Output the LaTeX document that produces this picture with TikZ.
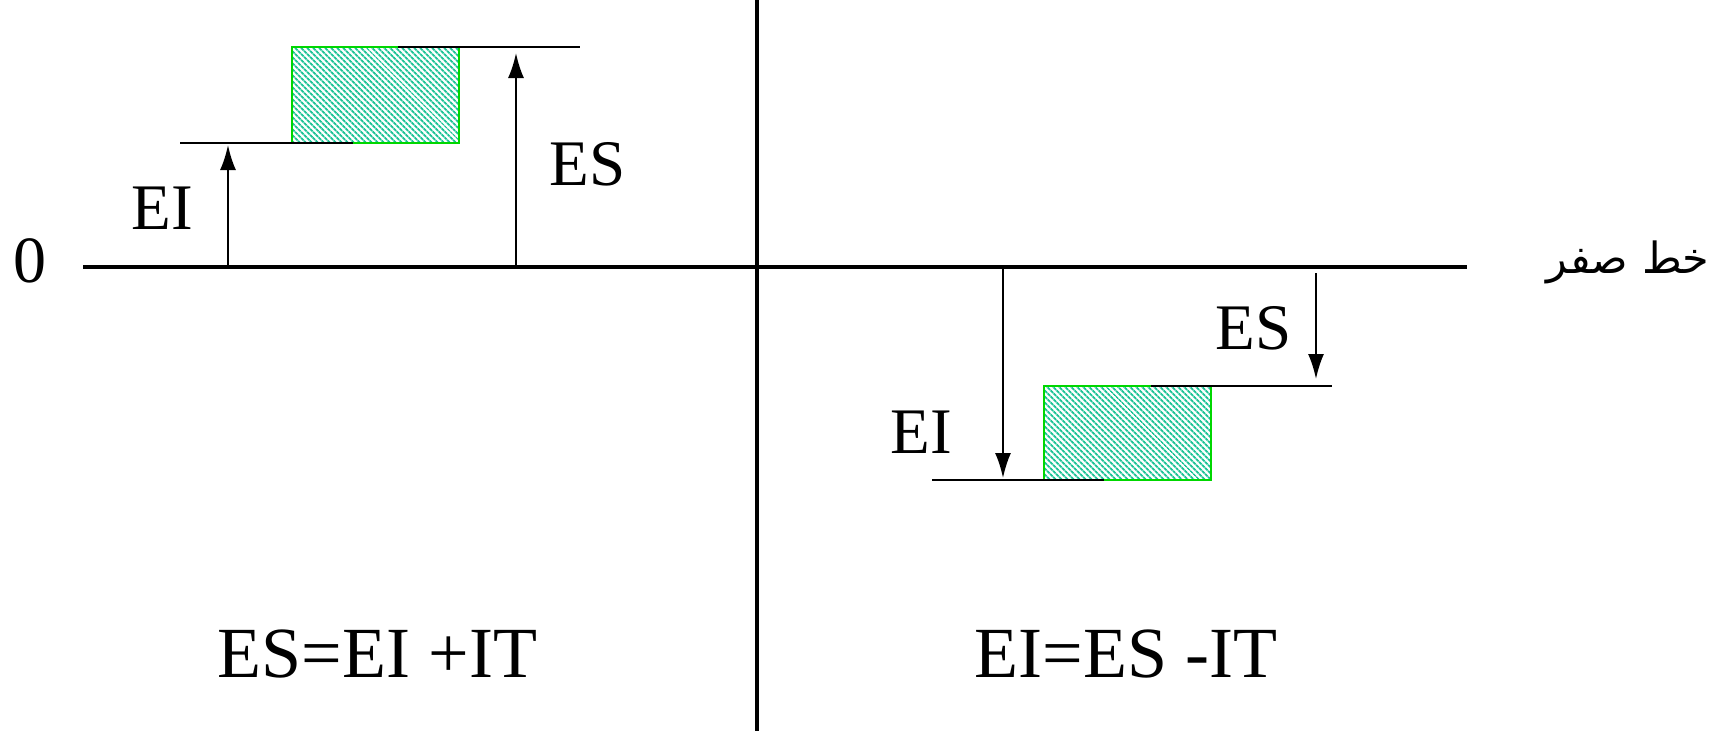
\documentclass[tikz,border=0pt]{standalone}
\usepackage{fontspec}
\setmainfont{Liberation Serif}
\newfontfamily\arabicfont[Script=Arabic]{DejaVu Sans}
\TeXXeTstate=1
\usetikzlibrary{patterns.meta,arrows.meta}
\definecolor{hatch}{RGB}{30,195,150}
\definecolor{boxgreen}{RGB}{0,215,0}
\begin{document}
\begin{tikzpicture}[x=1pt,y=-1pt,
 axis/.style={line width=4.5pt},
 level/.style={line width=2.7pt},
 dim/.style={line width=2pt,-{Latex[length=25pt,width=16pt]}},
 zone/.style={draw=boxgreen,line width=2.2pt,pattern={Lines[angle=-45,distance=4pt,line width=2pt]},pattern color=hatch},
 lbl/.style={inner sep=0pt,font=\fontsize{65}{70}\selectfont},
 formula/.style={inner sep=0pt,font=\fontsize{72}{80}\selectfont}]
\useasboundingbox (0,0) rectangle (1725,731);
% axes
\coordinate (zl) at (83,267);
\coordinate (zr) at (1467,267);
\coordinate (vt) at (757,0);
\coordinate (vb) at (757,731);
\draw[axis] (zl) -- (zr);
\draw[axis] (vt) -- (vb);
% left zone
\coordinate (r1a) at (292,47);
\coordinate (r1b) at (459,143);
\path[zone] (r1a) rectangle (r1b);
\coordinate (eiLa) at (180,143);
\coordinate (eiLb) at (353,143);
\coordinate (esLa) at (398,47);
\coordinate (esLb) at (580,47);
\draw[level] (eiLa) -- (eiLb);
\draw[level] (esLa) -- (esLb);
\coordinate (aEIs) at (228,267);
\coordinate (aEIe) at (228,145);
\coordinate (aESs) at (516,267);
\coordinate (aESe) at (516,53);
\draw[dim] (aEIs) -- (aEIe);
\draw[dim] (aESs) -- (aESe);
% right zone
\coordinate (r2a) at (1044,386);
\coordinate (r2b) at (1211,480);
\path[zone] (r2a) rectangle (r2b);
\coordinate (eiRa) at (932,480);
\coordinate (eiRb) at (1104,480);
\coordinate (esRa) at (1151,386);
\coordinate (esRb) at (1332,386);
\draw[level] (eiRa) -- (eiRb);
\draw[level] (esRa) -- (esRb);
\coordinate (bEIs) at (1003,268);
\coordinate (bEIe) at (1003,478);
\coordinate (bESs) at (1316,273);
\coordinate (bESe) at (1316,379);
\draw[dim] (bEIs) -- (bEIe);
\draw[dim] (bESs) -- (bESe);
% labels
\node[lbl] (tEIL) at (162,208.5) {EI};
\node[lbl] (tESL) at (587.5,164.5) {ES};
\node[inner sep=0pt,font=\fontsize{66}{72}\selectfont] (tzero) at (30,260.5) {0};
\node[lbl] (tESR) at (1253.5,328.5) {ES};
\node[lbl] (tEIR) at (921,432.5) {EI};
\node[formula] (fL) at (377.5,654.5) {ES=EI +IT};
\node[formula] (fR) at (1126,654) {EI=ES -IT};
\node[inner sep=0pt,font=\arabicfont\fontsize{43}{50}\selectfont] (tar) at (1628,262) {\beginR خط صفر\endR};
\end{tikzpicture}
\end{document}
